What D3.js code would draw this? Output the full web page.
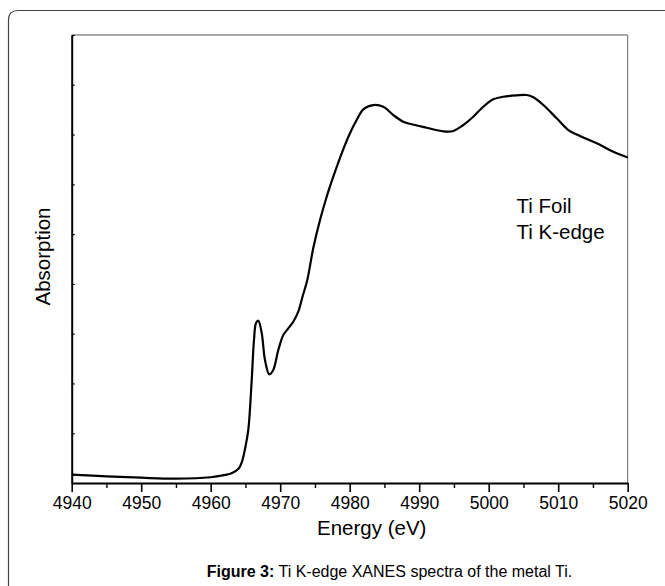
<!DOCTYPE html>
<html>
<head>
<meta charset="utf-8">
<script src="https://cdn.jsdelivr.net/npm/d3@7"></script>
<style>
  html, body { margin: 0; padding: 0; background: #fff; }
  svg { display: block; }
  text { font-family: "Liberation Sans", Arial, sans-serif; fill: #000; }
</style>
</head>
<body>
<svg id="chart" width="665" height="586"></svg>
<script>
// ---- data ----
const energy = [4940, 4945, 4950, 4955, 4960, 4962, 4963, 4964, 4964.5, 4965, 4965.41, 4965.9,
  4966.23, 4966.52, 4966.85, 4967.34, 4967.81, 4968.43, 4969.0, 4969.73, 4970.45, 4971.17,
  4971.88, 4972.6, 4973.24, 4973.9, 4974.76, 4975.73, 4976.69, 4977.64, 4978.85, 4980.04,
  4981.0, 4981.96, 4983.4, 4984.83, 4986.27, 4987.71, 4988.92, 4991.08, 4993.47, 4994.91,
  4996.35, 4997.78, 4999.22, 5000.66, 5002.1, 5004.03, 5005.47, 5006.42, 5007.86, 5009.78,
  5011.45, 5013.14, 5015.54, 5017.93, 5020];
const absorption = [0.17, 0.135, 0.106, 0.086, 0.115, 0.161, 0.195, 0.287, 0.428, 0.729, 1.065, 2.069,
  2.873, 3.214, 3.26, 3.013, 2.471, 2.184, 2.27, 2.672, 2.973, 3.108,
  3.24, 3.441, 3.757, 4.078, 4.72, 5.283, 5.751, 6.153, 6.623, 7.025,
  7.292, 7.507, 7.593, 7.559, 7.392, 7.258, 7.206, 7.137, 7.065, 7.071,
  7.192, 7.358, 7.559, 7.708, 7.76, 7.788, 7.794, 7.748, 7.593, 7.326,
  7.091, 6.971, 6.824, 6.655, 6.54];
const xMajorTicks = [4940, 4950, 4960, 4970, 4980, 4990, 5000, 5010, 5020];
const xMinorTicks = [4945, 4955, 4965, 4975, 4985, 4995, 5005, 5015];
const yTicks = [0, 1, 2, 3, 4, 5, 6, 7, 8, 9];
const xTitle = "Energy (eV)";
const yTitle = "Absorption";
const annotation = ["Ti Foil", "Ti K-edge"];
const captionBold = "Figure 3:";
const captionText = " Ti K-edge XANES spectra of the metal Ti.";

// ---- layout ----
const svg = d3.select("#chart");
const L = 71.7, R = 627.7, T = 35, B = 483;

// outer frame (rounded top-left corner, extends past the right/bottom edges)
svg.append("path")
  .attr("d", `M8.5,586 L8.5,20 Q8.5,10.5 18,10.5 L665,10.5`)
  .attr("fill", "none").attr("stroke", "#444").attr("stroke-width", 1.2);

const x = d3.scaleLinear().domain([4940, 5020]).range([L, R]);
const y = d3.scaleLinear().domain([0, 9]).range([B, T]);

// top & right box lines
svg.append("line").attr("x1", L).attr("x2", R).attr("y1", T).attr("y2", T)
  .attr("stroke", "#555").attr("stroke-width", 1);
svg.append("line").attr("x1", R).attr("x2", R).attr("y1", T).attr("y2", B)
  .attr("stroke", "#666").attr("stroke-width", 1);

// x axis (major ticks with labels, minor ticks)
const xAxis = svg.append("g").attr("transform", `translate(0,${B})`)
  .call(d3.axisBottom(x).tickValues(xMajorTicks).tickSize(9).tickPadding(5)
        .tickFormat(d3.format("d")).tickSizeOuter(0));
xAxis.select(".domain").attr("stroke", "#000").attr("stroke-width", 2);
xAxis.selectAll(".tick line").attr("stroke", "#000").attr("stroke-width", 1.6);
xAxis.selectAll(".tick text").attr("font-size", "17.5px")
  .attr("font-family", "'Liberation Sans', Arial, sans-serif").attr("fill", "#000");

const xMinor = svg.append("g").attr("transform", `translate(0,${B})`)
  .call(d3.axisBottom(x).tickValues(xMinorTicks).tickSize(5).tickFormat(""));
xMinor.select(".domain").remove();
xMinor.selectAll(".tick line").attr("stroke", "#000").attr("stroke-width", 1.4);

// y axis (inner ticks, no labels)
const yAxis = svg.append("g").attr("transform", `translate(${L},0)`)
  .call(d3.axisRight(y).tickValues(yTicks).tickSize(3).tickFormat("").tickSizeOuter(0));
yAxis.select(".domain").attr("stroke", "#000").attr("stroke-width", 2);
yAxis.selectAll(".tick line").attr("stroke", "#000").attr("stroke-width", 1.2);

// curve
const pts = energy.map((e, i) => [e, absorption[i]]);
const line = d3.line()
  .x(d => x(d[0])).y(d => y(d[1]))
  .curve(d3.curveCatmullRom.alpha(0.5));
svg.append("path").datum(pts)
  .attr("d", line).attr("fill", "none")
  .attr("stroke", "#000").attr("stroke-width", 2.2)
  .attr("stroke-linejoin", "round");

// titles
svg.append("text").attr("x", 371.7).attr("y", 535)
  .attr("text-anchor", "middle").attr("font-size", "20.5px").text(xTitle);
svg.append("text").attr("transform", "translate(50,256.5) rotate(-90)")
  .attr("text-anchor", "middle").attr("font-size", "20.5px").text(yTitle);

// annotation
annotation.forEach((t, i) => {
  svg.append("text").attr("x", 516.5).attr("y", 213 + i * 25.5)
    .attr("font-size", "20.5px").text(t);
});

// caption
const cap = svg.append("text").attr("x", 389.5).attr("y", 576.5)
  .attr("text-anchor", "middle").attr("font-size", "16px");
cap.append("tspan").attr("font-weight", "bold").text(captionBold);
cap.append("tspan").text(captionText);
</script>
</body>
</html>
